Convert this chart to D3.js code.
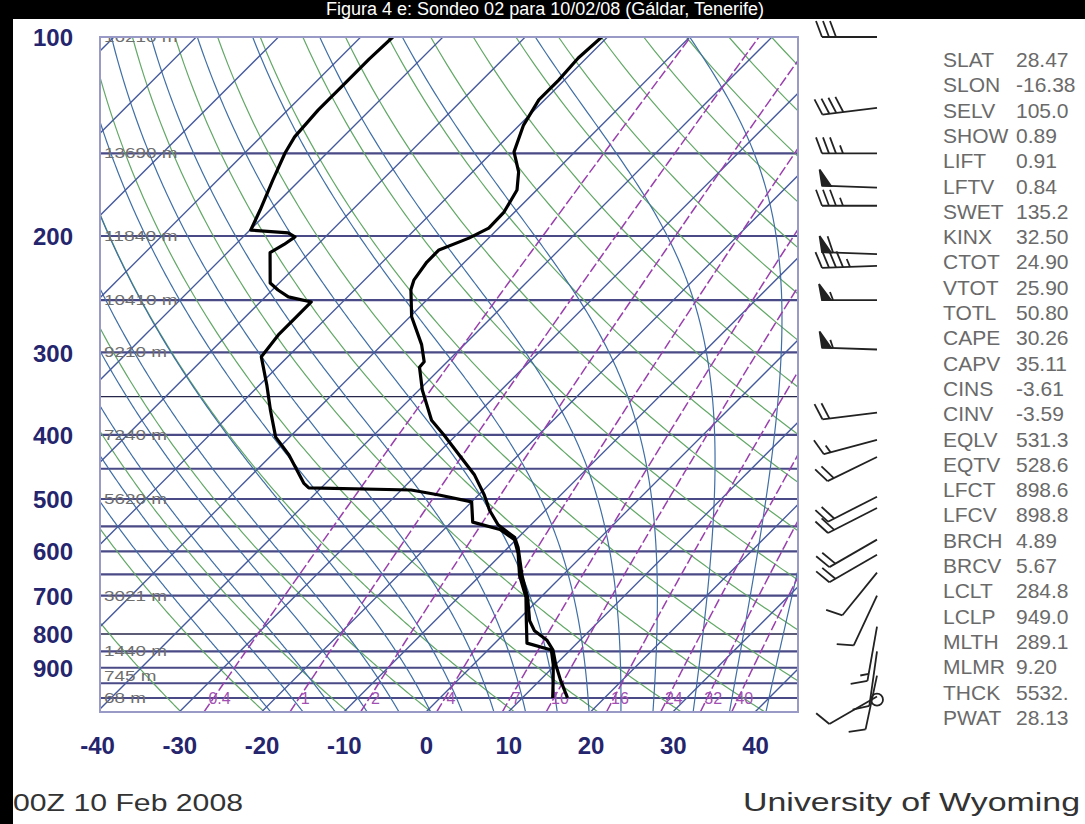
<!DOCTYPE html>
<html><head><meta charset="utf-8">
<script src="https://cdn.jsdelivr.net/npm/d3@7"></script>
<style>body{margin:0;background:#000;} svg{display:block}</style>
</head><body><svg id="c" width="1085" height="824"></svg>
<script>
// ---------- data ----------
const tempPressure = [100,107.6,116.2,124.5,135.9,149.2,160,170.4,184,194.6,201.5,210,219,233,241,265,292,310,316,342,380,400,429,460,493,520,547,572,592,653,704,764,791,818,846,890,938,1000];
const temperature  = [-60.7,-61.0,-60.7,-60.7,-59.5,-57.4,-54.4,-52.4,-51.3,-51.2,-52.4,-54.6,-54.6,-54,-53.2,-49.8,-45.2,-42.8,-42.7,-39.6,-34.8,-31.5,-27.2,-22.9,-19.3,-16.8,-14,-10.4,-8.8,-4.9,-1.6,1.5,3.3,6.0,7.9,10,12.4,15.5];
const dewPressure = [100,108,118,129,141.6,149.8,164.6,182.7,195.9,197.9,200.6,206,212,235.6,241.4,247.3,251.7,263.5,282.3,304.7,336.2,367,403,429,473,481,484.5,493,505,542,556,576,604,653,704,764,826,846,890,940,1000];
const dewpoint    = [-86.1,-86.3,-86.3,-86.3,-85.9,-85.1,-83.3,-81.2,-79.9,-75,-73.7,-74.1,-74.8,-71.1,-69.3,-67.2,-63.8,-63.8,-63.8,-63.2,-59.1,-55.6,-51.7,-47.9,-42.7,-41.5,-28.8,-24.8,-20,-17.4,-13.2,-10.2,-8.1,-5.2,-1.8,1.1,3.9,7.7,9.7,11.6,13.7];

const pressureTicks = [100,200,300,400,500,600,700,800,900];
const isobarLevels = [100,150,200,250,300,350,400,450,500,550,600,650,700,800,850,900,950,1000];
const thinIsobars = [350,800];
const tempTicks = [-40,-30,-20,-10,0,10,20,30,40];
const heightLevels = [100,150,200,250,300,400,500,700,850,925,1000];
const heightLabels = ["16210 m","13690 m","11840 m","10410 m","9210 m","7240 m","5620 m","3021 m","1440 m","745 m","68 m"];
const isotherms = [-130,-120,-110,-100,-90,-80,-70,-60,-50,-40,-30,-20,-10,0,10,20,30,40];
const dryAdiabatsK = [240,250,260,270,280,290,300,310,320,330,340,350,360,370,380,390,400,410,420,430,440,450,460,470,480,490,500,510,520,530,540,550];
const moistStartC = [-22,-18,-14,-10,-6,-2,2,6,10,14,18,22,26,31,35.5,40];
const mixingRatios = [0.4,1,2,4,7,10,16,24,32,40];
const mixingLabels = ["0.4","1","2","4","7","10","16","24","32","40"];

const windPressure = [100,128,150,169,180,213,222,250,297,370,407,432,496,516,576,607,646,700,780,850,925,995];
const windDir      = [270,263,270,272,270,272,268,270,272,263,255,244,243,243,240,240,219,205,190,188,192,240];
const windSpeed    = [30,40,35,50,35,60,45,55,55,20,15,20,20,20,20,20,10,10,15,10,10,10];
const calmPressure = [1006];

const indexNames  = ["SLAT","SLON","SELV","SHOW","LIFT","LFTV","SWET","KINX","CTOT","VTOT","TOTL","CAPE","CAPV","CINS","CINV","EQLV","EQTV","LFCT","LFCV","BRCH","BRCV","LCLT","LCLP","MLTH","MLMR","THCK","PWAT"];
const indexValues = ["28.47","-16.38","105.0","0.89","0.91","0.84","135.2","32.50","24.90","25.90","50.80","30.26","35.11","-3.61","-3.59","531.3","528.6","898.6","898.8","4.89","5.67","284.8","949.0","289.1","9.20","5532.","28.13"];

const titleText = "Figura 4 e: Sondeo 02 para 10/02/08 (Gáldar, Tenerife)";
const dateText = "00Z 10 Feb 2008";
const sourceText = "University of Wyoming";

// ---------- layout ----------
const W = 1085, H = 824;
const L = 100, R = 798, T = 37, B = 712;
const y = d3.scaleLog().domain([100, 1050]).range([T, B]);
const xT = d3.scaleLinear().domain([-40, 40]).range([97, 755]);
const sx = (t, p) => xT(t) + (y(1050) - y(p));
const FONT = "Liberation Sans, Arial, sans-serif";

const svg = d3.select("#c");
svg.append("rect").attr("width", W).attr("height", H).attr("fill", "#000");
svg.append("rect").attr("x", 13).attr("y", 19).attr("width", W - 13).attr("height", H - 19).attr("fill", "#fff");
svg.append("text").attr("x", 545).attr("y", 15).attr("text-anchor", "middle")
  .attr("fill", "#fff").attr("font-family", FONT).attr("font-size", 18)
  .text(titleText);

const defs = svg.append("defs");
defs.append("clipPath").attr("id", "plot").append("rect").attr("x", L).attr("y", T).attr("width", R - L).attr("height", B - T);
const g = svg.append("g").attr("clip-path", "url(#plot)");
const line = d3.line().x(d => sx(d[0], d[1])).y(d => y(d[1]));

const pSteps = d3.range(1050, 99, -5);

// isobars
g.selectAll(".isobar").data(isobarLevels).join("line")
  .attr("x1", L).attr("x2", R).attr("y1", d => y(d)).attr("y2", d => y(d))
  .attr("stroke", d => thinIsobars.includes(d) ? "#26264a" : "#4a4a86")
  .attr("stroke-width", d => thinIsobars.includes(d) ? 1.4 : 2.2);

// dry adiabats
g.selectAll(".dry").data(dryAdiabatsK).join("path")
  .attr("d", th => line(pSteps.map(p => [th * Math.pow(p / 1000, 0.2857) - 273.15, p])))
  .attr("fill", "none").attr("stroke", "#62a866").attr("stroke-width", 1.2);

// moist adiabats (pseudo-adiabatic integration)
function es(tc) { return 6.112 * Math.exp(17.67 * tc / (tc + 243.5)); }
function moistPath(t0) {
  const Rd = 287.04, Cp = 1005.7, Lv = 2.501e6, eps = 0.622;
  const grad = (p, tk) => {
    const e = es(tk - 273.15); const rs = eps * e / (p - e);
    return (Rd * tk + Lv * rs) / (p * (Cp + (Lv * Lv * rs * eps) / (Rd * tk * tk)));
  };
  const pts = [];
  let tk = t0 + 273.15, p, dp = 2;
  const down = [];
  let t2 = tk;
  for (let pp = 1000; pp < 1050; pp += dp) { t2 += grad(pp, t2) * dp; down.push([t2 - 273.15, pp + dp]); }
  down.reverse().forEach(d => pts.push(d));
  pts.push([t0, 1000]);
  for (p = 1000; p > 100; p -= dp) {
    const k1 = grad(p, tk), k2 = grad(p - dp / 2, tk - k1 * dp / 2);
    tk -= k2 * dp;
    pts.push([tk - 273.15, p - dp]);
  }
  return pts;
}
g.selectAll(".moist").data(moistStartC).join("path")
  .attr("d", t0 => line(moistPath(t0)))
  .attr("fill", "none").attr("stroke", "#3f6fa6").attr("stroke-width", 1.2);

// isotherms
g.selectAll(".iso").data(isotherms).join("line")
  .attr("x1", t => sx(t, 1050)).attr("y1", y(1050)).attr("x2", t => sx(t, 100)).attr("y2", y(100))
  .attr("stroke", "#44589c").attr("stroke-width", 1.3);

// mixing ratio lines
function tdFromW(w, p) { const e = w * p / (622 + w); const l = Math.log(e / 6.112); return 243.5 * l / (17.67 - l); }
g.selectAll(".mix").data(mixingRatios).join("path")
  .attr("d", w => line(pSteps.map(p => [tdFromW(w, p), p])))
  .attr("fill", "none").attr("stroke", "#9a3fae").attr("stroke-width", 1.5).attr("stroke-dasharray", "10,3");
g.selectAll(".mixlab").data(mixingRatios).join("text")
  .attr("x", w => sx(tdFromW(w, 1000), 1000) + 6).attr("y", y(1000) + 6)
  .attr("text-anchor", "middle").attr("fill", "#a24fb3")
  .attr("font-family", FONT).attr("font-size", 16)
  .text((w, i) => mixingLabels[i]);

// height labels
g.selectAll(".hl").data(heightLevels).join("text")
  .attr("x", 104).attr("y", p => y(p) + 5)
  .attr("fill", "#6e6e6e").attr("font-family", FONT).attr("font-size", 14)
  .attr("textLength", (p, i) => heightLabels[i].length * 10.5).attr("lengthAdjust", "spacingAndGlyphs")
  .text((p, i) => heightLabels[i]);

// sounding
const tData = tempPressure.map((p, i) => [temperature[i], p]);
const dData = dewPressure.map((p, i) => [dewpoint[i], p]);
g.append("path").attr("d", line(dData)).attr("fill", "none").attr("stroke", "#000").attr("stroke-width", 3.2).attr("stroke-linejoin", "round");
g.append("path").attr("d", line(tData)).attr("fill", "none").attr("stroke", "#000").attr("stroke-width", 3.2).attr("stroke-linejoin", "round");

// frame
svg.append("rect").attr("x", L).attr("y", T).attr("width", R - L).attr("height", B - T)
  .attr("fill", "none").attr("stroke", "#9a9ac6").attr("stroke-width", 2);

// axes
const axL = svg.append("g").attr("transform", "translate(73,0)")
  .call(d3.axisLeft(y).tickValues(pressureTicks).tickFormat(d => String(d)).tickSize(0).tickPadding(0));
axL.select(".domain").remove();
axL.selectAll("text").attr("fill", "#25256e").attr("font-family", FONT)
  .attr("font-size", 24).attr("font-weight", "bold").attr("dy", "0.36em");

const axB = svg.append("g").attr("transform", `translate(0,${737})`)
  .call(d3.axisBottom(xT).tickValues(tempTicks).tickFormat(d => String(d)).tickSize(0).tickPadding(0));
axB.select(".domain").remove();
axB.selectAll("text").attr("fill", "#25256e").attr("font-family", FONT)
  .attr("font-size", 24).attr("font-weight", "bold").attr("dy", "0.71em");

// wind barbs
const stationX = 877, staffLen = 55;
const wb = svg.append("g").attr("stroke", "#222").attr("stroke-width", 1.8).attr("fill", "#222");
windPressure.forEach((p, i) => {
  const dir = windDir[i] * Math.PI / 180, spd = windSpeed[i];
  const ux = Math.sin(dir), uy = -Math.cos(dir);
  const px = -uy, py = ux;
  const x0 = stationX, y0 = y(p);
  const xe = x0 + ux * staffLen, ye = y0 + uy * staffLen;
  wb.append("line").attr("x1", x0).attr("y1", y0).attr("x2", xe).attr("y2", ye);
  let s = Math.round(spd / 5) * 5;
  let pos = 0;
  const bl = 16, sp = 7;
  const along = (d) => [xe - ux * d, ye - uy * d];
  while (s >= 50) {
    const [ax, ay] = along(pos), [bx, by] = along(pos + 9);
    wb.append("path").attr("d", `M${ax},${ay}L${ax + px * bl + ux * 3},${ay + py * bl + uy * 3}L${bx},${by}Z`);
    pos += 11; s -= 50;
  }
  while (s >= 10) {
    const [ax, ay] = along(pos);
    wb.append("line").attr("x1", ax).attr("y1", ay).attr("x2", ax + px * bl + ux * 6).attr("y2", ay + py * bl + uy * 6);
    pos += sp; s -= 10;
  }
  if (s >= 5) {
    if (pos === 0) pos = sp;
    const [ax, ay] = along(pos);
    wb.append("line").attr("x1", ax).attr("y1", ay).attr("x2", ax + px * bl * 0.5 + ux * 3).attr("y2", ay + py * bl * 0.5 + uy * 3);
  }
});
calmPressure.forEach(p => {
  wb.append("circle").attr("cx", stationX).attr("cy", y(p)).attr("r", 6).attr("fill", "none");
});

// index panel
const ip = svg.append("g").attr("font-family", FONT).attr("font-size", 21).attr("fill", "#6a6a6a");
indexNames.forEach((n, i) => {
  ip.append("text").attr("x", 943).attr("y", 67 + i * 25.3).text(n);
  ip.append("text").attr("x", 1016).attr("y", 67 + i * 25.3).text(indexValues[i]);
});

// footer
svg.append("text").attr("x", 13).attr("y", 811).attr("fill", "#333")
  .attr("font-family", FONT).attr("font-size", 24)
  .attr("textLength", 230).attr("lengthAdjust", "spacingAndGlyphs").text(dateText);
svg.append("text").attr("x", 743).attr("y", 811).attr("fill", "#333")
  .attr("font-family", FONT).attr("font-size", 25)
  .attr("textLength", 337).attr("lengthAdjust", "spacingAndGlyphs").text(sourceText);
</script></body></html>
